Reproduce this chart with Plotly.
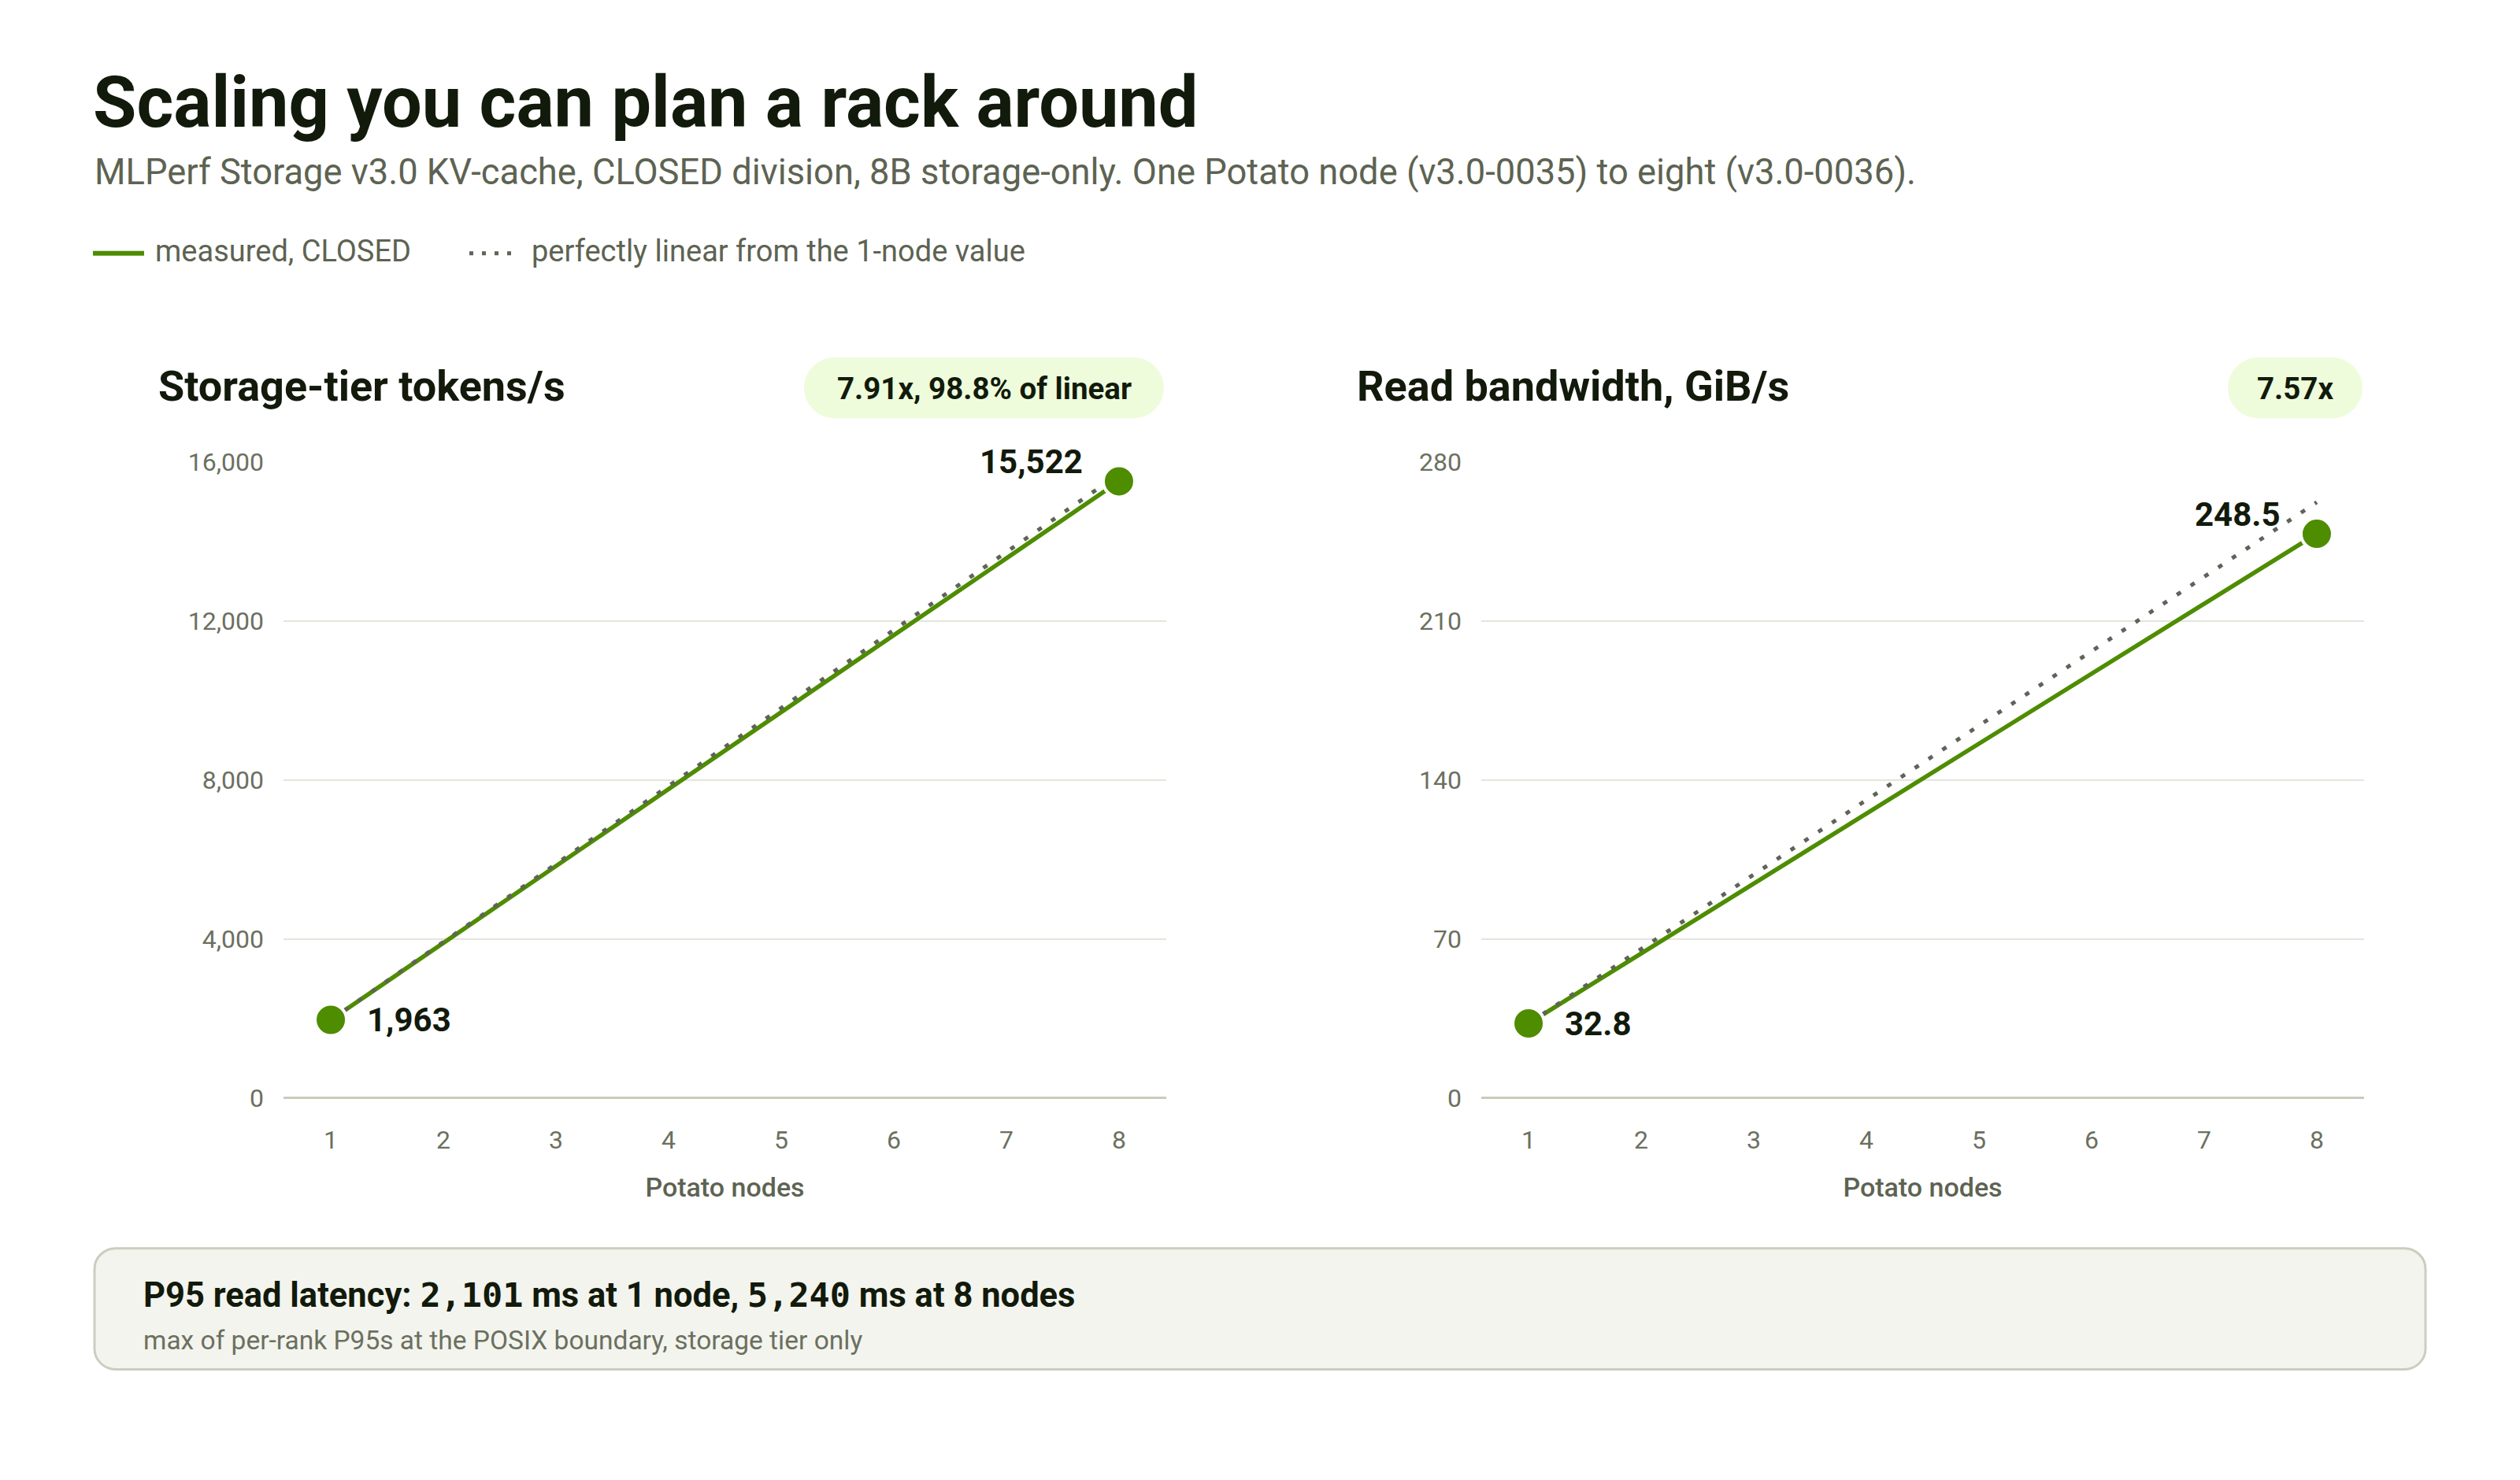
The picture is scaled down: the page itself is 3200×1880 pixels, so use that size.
import plotly.graph_objects as go

# === Data ===
nodes = [1, 8]
tokens_measured = [1963, 15522]
tokens_linear = [1963, 15704]
bw_measured = [32.8, 248.5]
bw_linear = [32.8, 262.4]

token_ticks = [0, 4000, 8000, 12000, 16000]
bw_ticks = [0, 70, 140, 210, 280]
node_ticks = [1, 2, 3, 4, 5, 6, 7, 8]

panel_titles = ["Storage-tier tokens/s", "Read bandwidth, GiB/s"]
badges = ["7.91x, 98.8% of linear", "7.57x"]

# === Style ===
W, H = 3200, 1880
FONT = "Roboto"
MONO = "DejaVu Sans Mono"
INK = "#121a0b"
MUTED = "#5d6352"
TICK = "#6b705f"
GREEN = "#4e8c00"
DOTS = "#5f6358"
GRID = "#e4e5dc"
ZERO = "#c9cbbc"
PILL = "#eefcdc"


def px(x):
    return x / W


def py(y):
    return 1 - y / H


def rounded_rect(x0, y0, x1, y1, r):
    k = 0.5523 * r
    pts = [
        f"M {px(x0 + r)},{py(y0)}",
        f"L {px(x1 - r)},{py(y0)}",
        f"C {px(x1 - r + k)},{py(y0)} {px(x1)},{py(y0 + r - k)} {px(x1)},{py(y0 + r)}",
        f"L {px(x1)},{py(y1 - r)}",
        f"C {px(x1)},{py(y1 - r + k)} {px(x1 - r + k)},{py(y1)} {px(x1 - r)},{py(y1)}",
        f"L {px(x0 + r)},{py(y1)}",
        f"C {px(x0 + r - k)},{py(y1)} {px(x0)},{py(y1 - r + k)} {px(x0)},{py(y1 - r)}",
        f"L {px(x0)},{py(y0 + r)}",
        f"C {px(x0)},{py(y0 + r - k)} {px(x0 + r - k)},{py(y0)} {px(x0 + r)},{py(y0)}",
        "Z",
    ]
    return " ".join(pts)


fig = go.Figure()

panels = [
    dict(xa="x", ya="y", meas=tokens_measured, lin=tokens_linear, fmt="{:,.0f}"),
    dict(xa="x2", ya="y2", meas=bw_measured, lin=bw_linear, fmt="{:.1f}"),
]

for p in panels:
    fig.add_trace(go.Scatter(
        x=nodes, y=p["meas"], xaxis=p["xa"], yaxis=p["ya"],
        mode="lines", line=dict(color=GREEN, width=5.5),
        showlegend=False, hoverinfo="skip"
    ))
    fig.add_trace(go.Scatter(
        x=nodes, y=p["lin"], xaxis=p["xa"], yaxis=p["ya"],
        mode="lines", line=dict(color=DOTS, width=5, dash="6px,15px"),
        showlegend=False, hoverinfo="skip"
    ))
    fig.add_trace(go.Scatter(
        x=nodes, y=p["meas"], xaxis=p["xa"], yaxis=p["ya"],
        mode="markers", marker=dict(color=GREEN, size=40, line=dict(color="white", width=4)),
        showlegend=False, hoverinfo="skip"
    ))

# === Axes ===
x_domains = [[360 / W, 1481 / W], [1881 / W, 3002 / W]]
y_domain = [py(1404), py(580)]

axis_common = dict(
    showline=False, ticks="", tickfont=dict(family=FONT, size=32, color=TICK),
)
xtitle = dict(text="Potato nodes", standoff=30,
              font=dict(family=FONT, size=34, color=MUTED, weight=500))

fig.update_layout(
    xaxis=dict(domain=x_domains[0], anchor="y", range=[0.58, 8.42], tickvals=node_ticks,
               showgrid=False, zeroline=False, ticklabelstandoff=31, title=xtitle,
               **axis_common),
    xaxis2=dict(domain=x_domains[1], anchor="y2", range=[0.58, 8.42], tickvals=node_ticks,
                showgrid=False, zeroline=False, ticklabelstandoff=31, title=xtitle,
                **axis_common),
    yaxis=dict(domain=y_domain, anchor="x", range=[0, 16000], tickvals=token_ticks,
               tickformat=",", showgrid=True, gridcolor=GRID, gridwidth=2,
               zeroline=True, zerolinecolor=ZERO, zerolinewidth=3,
               ticklabelstandoff=24, **axis_common),
    yaxis2=dict(domain=y_domain, anchor="x2", range=[0, 280], tickvals=bw_ticks,
                showgrid=True, gridcolor=GRID, gridwidth=2,
                zeroline=True, zerolinecolor=ZERO, zerolinewidth=3,
                ticklabelstandoff=24, **axis_common),
)

# === Text and decorations ===
annotations = []
shapes = []


def text(x, y, s, size, color=INK, weight=400, family=FONT, anchor="left"):
    annotations.append(dict(
        x=px(x), y=py(y), xref="paper", yref="paper", text=s, showarrow=False,
        xanchor=anchor, yanchor="middle",
        font=dict(family=family, size=size, color=color, weight=weight),
    ))


text(116, 114, "Scaling you can plan a rack around", 90, INK, 700)
text(118, 204, "MLPerf Storage v3.0 KV-cache, CLOSED division, 8B storage-only. "
     "One Potato node (v3.0-0035) to eight (v3.0-0036).", 45.3, MUTED)

# legend
shapes.append(dict(type="line", xref="paper", yref="paper",
                   x0=px(118), x1=px(183), y0=py(309), y1=py(309),
                   line=dict(color=GREEN, width=6)))
text(195, 306.5, "measured, CLOSED", 38, MUTED)
shapes.append(dict(type="line", xref="paper", yref="paper",
                   x0=px(596), x1=px(656), y0=py(309), y1=py(309),
                   line=dict(color=DOTS, width=5, dash="5px,11px")))
text(673, 306.5, "perfectly linear from the 1-node value", 38, MUTED)

# panel headers and badges
title_x = [199, 1721]
pill_x = [(1021, 1478), (2829, 3000)]
for i in range(2):
    text(title_x[i], 481, panel_titles[i], 54, INK, 700)
    x0, x1 = pill_x[i]
    shapes.append(dict(type="path", xref="paper", yref="paper",
                       path=rounded_rect(x0, 444, x1, 523, 39.5),
                       fillcolor=PILL, line=dict(width=0), layer="below"))
    text((x0 + x1) / 2, 484, badges[i], 38.5, INK, 700, anchor="center")

# point labels
for p in panels:
    annotations.append(dict(
        x=nodes[0], y=p["meas"][0], xref=p["xa"], yref=p["ya"],
        text=p["fmt"].format(p["meas"][0]), showarrow=False,
        xanchor="left", yanchor="middle", xshift=44,
        font=dict(family=FONT, size=42, color=INK, weight=700),
    ))
    annotations.append(dict(
        x=nodes[1], y=p["meas"][1], xref=p["xa"], yref=p["ya"],
        text=p["fmt"].format(p["meas"][1]), showarrow=False,
        xanchor="right", yanchor="middle", xshift=-44, yshift=25,
        font=dict(family=FONT, size=42, color=INK, weight=700),
    ))

# latency box
shapes.append(dict(type="path", xref="paper", yref="paper",
                   path=rounded_rect(120, 1599, 3080, 1756, 27),
                   fillcolor="#f3f4ee", line=dict(color="#cbcdbf", width=3), layer="below"))
mono = f"<span style='font-family:{MONO}'>"
text(180, 1660, f"<b>P95 read latency: {mono}2,101</span> ms at 1 node, "
     f"{mono}5,240</span> ms at 8 nodes</b>", 43.5, INK, 400)
text(180, 1718, "max of per-rank P95s at the POSIX boundary, storage tier only", 33.5, TICK)

fig.update_layout(
    width=W, height=H,
    margin=dict(l=0, r=0, t=0, b=0),
    paper_bgcolor="white", plot_bgcolor="white",
    font=dict(family=FONT),
    annotations=annotations, shapes=shapes,
    showlegend=False,
)

fig.write_html("out.html", config={"displayModeBar": False},
               post_script="document.body.style.margin = '0px';")
